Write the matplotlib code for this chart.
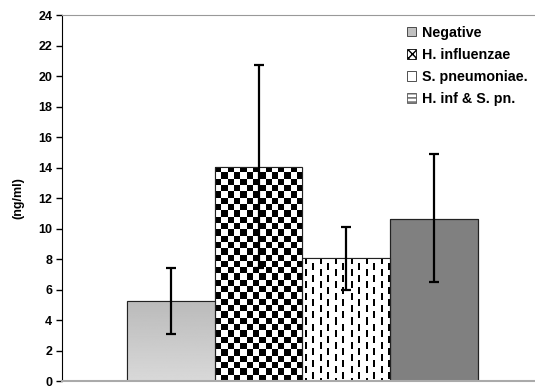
import numpy as np
import matplotlib.pyplot as plt
from matplotlib.patches import Patch

groups = ['Negative', 'H. influenzae', 'S. pneumoniae.', 'H. inf & S. pn.']
means = [5.25, 14.05, 8.1, 10.65]
err_low = [3.1, 7.4, 6.0, 6.5]
err_high = [7.4, 20.7, 10.1, 14.9]
yticks = list(range(0, 25, 2))

plt.rcParams['font.family'] = ['Liberation Sans', 'DejaVu Sans']
plt.rcParams['font.weight'] = 'bold'

fig = plt.figure(figsize=(5.35, 3.88), dpi=100)
ax = fig.add_axes([0.116, 0.018, 0.884, 0.943])

x = np.arange(len(groups))
xlim = (-1.24, 4.15)
ylim = (0, 24)

bars = ax.bar(x, means, width=1.0, color=['#c8c8c8', 'white', 'white', '#808080'],
              edgecolor='#222222', linewidth=0.8, zorder=2)

# gradient fill for Negative
b = bars[0]
grad = np.linspace(0.85, 0.73, 100).reshape(-1, 1)
im = ax.imshow(grad, cmap='gray', vmin=0, vmax=1, aspect='auto', origin='lower',
               extent=[b.get_x(), b.get_x() + b.get_width(), 0, b.get_height()], zorder=2.1)
im.set_clip_path(b)

# checkerboard for H. influenzae
b = bars[1]
px_x = 473 / (xlim[1] - xlim[0])
px_y = 366 / (ylim[1] - ylim[0])
w_px = b.get_width() * px_x
h_px = b.get_height() * px_y
cols = int(round(w_px / 6.3))
rows = int(round(h_px / 6.3))
checker = (np.indices((rows, cols)).sum(axis=0) % 2).astype(float)
im = ax.imshow(checker, cmap='gray', vmin=0, vmax=1, aspect='auto', origin='upper',
               interpolation='nearest',
               extent=[b.get_x(), b.get_x() + cols * 6.3 / px_x,
                       b.get_height() - rows * 6.3 / px_y, b.get_height()], zorder=2.1)
im.set_clip_path(b)

# dashed texture for S. pneumoniae
b = bars[2]
w_px = int(b.get_width() * px_x)
h_px = int(b.get_height() * px_y)
ii, jj = np.indices((h_px, w_px))
tex = np.ones((h_px, w_px))
c = jj % 15
tex[((c >= 3) & (c < 5)) & ((ii % 12) < 7)] = 0
tex[((c >= 10) & (c < 12)) & (((ii + 6) % 12) < 7)] = 0
im = ax.imshow(tex, cmap='gray', vmin=0, vmax=1, aspect='auto', origin='upper',
               interpolation='nearest',
               extent=[b.get_x(), b.get_x() + b.get_width(), 0, b.get_height()], zorder=2.1)
im.set_clip_path(b)

# redraw edges on top
for b in bars:
    ax.add_patch(plt.Rectangle((b.get_x(), 0), b.get_width(), b.get_height(),
                               fill=False, edgecolor='#222222', linewidth=0.8, zorder=2.5))

yerr = [np.array(means) - np.array(err_low), np.array(err_high) - np.array(means)]
ax.errorbar(x, means, yerr=yerr, fmt='none', ecolor='black', elinewidth=1.6,
            capsize=3.5, capthick=1.6, zorder=3)

ax.set_xlim(*xlim)
ax.set_ylim(*ylim)
ax.set_yticks(yticks)
ax.set_yticklabels([str(t) for t in yticks], fontsize=9, fontweight='bold')
ax.set_xticks([])
ax.tick_params(axis='y', direction='out', length=4, width=1, pad=3)
ax.set_ylabel('(ng/ml)', fontsize=9, fontweight='bold', labelpad=10)

ax.spines['right'].set_visible(False)
ax.spines['top'].set_color('#999999')
ax.spines['bottom'].set_color('#aaaaaa')
ax.spines['bottom'].set_linewidth(1.5)
ax.spines['left'].set_color('black')

handles = [
    Patch(facecolor='#c0c0c0', edgecolor='#333333', linewidth=0.6),
    Patch(facecolor='white', edgecolor='black', hatch='xxxx', linewidth=0.6),
    Patch(facecolor='white', edgecolor='#333333', linewidth=0.6),
    Patch(facecolor='white', edgecolor='#555555', hatch='----', linewidth=0.6),
]
leg = ax.legend(handles, groups, loc='upper left', bbox_to_anchor=(0.729, 0.971),
                borderaxespad=0, borderpad=0,
                frameon=False, prop={'size': 10.3, 'weight': 'bold'},
                handlelength=0.65, handleheight=0.65, handletextpad=0.4, labelspacing=0.57)

fig.savefig('out.png', dpi=100)
